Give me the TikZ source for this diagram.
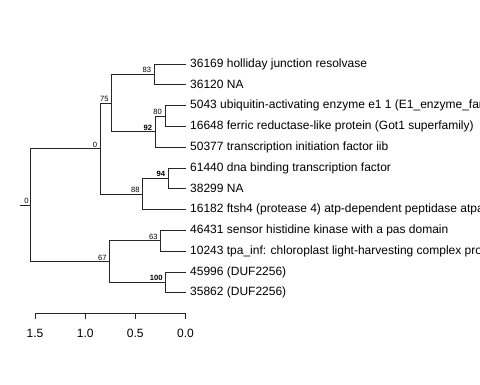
\documentclass[tikz,border=0pt]{standalone}
\usepackage{fontspec}
\setmainfont{Liberation Sans}
\begin{document}
\begin{tikzpicture}[x=1pt,y=-1pt,
  br/.style={line width=0.8pt,draw=black!85},
  leaf/.style={anchor=west,inner sep=0pt,font=\fontsize{12}{14}\selectfont},
  bs/.style={anchor=south east,inner sep=0pt,font=\fontsize{7.6}{9}\selectfont},
  bsb/.style={bs,font=\fontsize{7.6}{9}\selectfont\bfseries},
  ax/.style={anchor=center,inner sep=0pt,font=\fontsize{12}{14}\selectfont}]
\useasboundingbox (0,0) rectangle (480,384);
\clip (0,0) rectangle (480,384);
\fill[white] (0,0) rectangle (480,384);
% tips
\foreach \i/\y in {1/64,2/84.8,3/105.6,4/126.4,5/147.2,6/168,7/188.8,8/209.6,9/230.4,10/251.2,11/272,12/292.8}
  \coordinate (t\i) at (185.5,\y);
% leaf labels
\node[leaf] (l1) at (190,64) {36169 holliday junction resolvase};
\node[leaf] (l2) at (190,84.8) {36120 NA};
\node[leaf] (l3) at (190,105.6) {5043 ubiquitin-activating enzyme e1 1 (E1\_enzyme\_family)};
\node[leaf] (l4) at (190,126.4) {16648 ferric reductase-like protein (Got1 superfamily)};
\node[leaf] (l5) at (190,147.2) {50377 transcription initiation factor iib};
\node[leaf] (l6) at (190,168) {61440 dna binding transcription factor};
\node[leaf] (l7) at (190,188.8) {38299 NA};
\node[leaf] (l8) at (190,209.6) {16182 ftsh4 (protease 4) atp-dependent peptidase atpase};
\node[leaf] (l9) at (190,230.4) {46431 sensor histidine kinase with a pas domain};
\node[leaf] (l10) at (190,251.2) {10243 tpa\_inf: chloroplast light-harvesting complex protein};
\node[leaf] (l11) at (190,272) {45996 (DUF2256)};
\node[leaf] (l12) at (190,292.8) {35862 (DUF2256)};
% internal nodes
\coordinate (n83) at (154.3,74.4);
\coordinate (n80) at (165,116);
\coordinate (n92) at (155.3,131.6);
\coordinate (n75) at (111.7,103);
\coordinate (n94) at (168.3,178.4);
\coordinate (n88) at (142.7,194);
\coordinate (n0) at (100.3,148.5);
\coordinate (n63) at (160.7,240.8);
\coordinate (n100) at (165.7,282.4);
\coordinate (n67) at (109.7,261.6);
\coordinate (root) at (30.7,205);
\coordinate (stem) at (20,205);
% branches
\draw[br] (stem) -- (root);
\draw[br] (root) |- (n0);
\draw[br] (root) |- (n67);
\draw[br] (n0) |- (n75);
\draw[br] (n0) |- (n88);
\draw[br] (n75) |- (n83);
\draw[br] (n75) |- (n92);
\draw[br] (n83) |- (t1);
\draw[br] (n83) |- (t2);
\draw[br] (n92) |- (n80);
\draw[br] (n92) |- (t5);
\draw[br] (n80) |- (t3);
\draw[br] (n80) |- (t4);
\draw[br] (n88) |- (n94);
\draw[br] (n88) |- (t8);
\draw[br] (n94) |- (t6);
\draw[br] (n94) |- (t7);
\draw[br] (n67) |- (n63);
\draw[br] (n67) |- (n100);
\draw[br] (n63) |- (t9);
\draw[br] (n63) |- (t10);
\draw[br] (n100) |- (t11);
\draw[br] (n100) |- (t12);
% support labels
\node[bs] (b0r) at ([xshift=-2pt,yshift=1.2pt]root) {0};
\node[bs] (b0) at ([xshift=-3pt,yshift=1.2pt]n0) {0};
\node[bs] (b75) at ([xshift=-3pt,yshift=1.2pt]n75) {75};
\node[bs] (b83) at ([xshift=-3pt,yshift=1.2pt]n83) {83};
\node[bsb] (b92) at ([xshift=-3pt,yshift=1.2pt]n92) {92};
\node[bs] (b80) at ([xshift=-3pt,yshift=1.2pt]n80) {80};
\node[bs] (b88) at ([xshift=-3pt,yshift=1.2pt]n88) {88};
\node[bsb] (b94) at ([xshift=-3pt,yshift=1.2pt]n94) {94};
\node[bs] (b67) at ([xshift=-3pt,yshift=1.2pt]n67) {67};
\node[bs] (b63) at ([xshift=-3pt,yshift=1.2pt]n63) {63};
\node[bsb] (b100) at ([xshift=-3pt,yshift=1.2pt]n100) {100};
% axis
\coordinate (a0) at (35,313);
\coordinate (a3) at (185.5,313);
\draw[br] (a0) -- (a3);
\foreach \x/\lab [count=\k] in {35/1.5,85.2/1.0,135.3/0.5,185.5/0.0}{
  \draw[br] (\x,313) -- (\x,319);
  \node[ax] (al\k) at (\x,333) {\lab};
}
\end{tikzpicture}
\end{document}
